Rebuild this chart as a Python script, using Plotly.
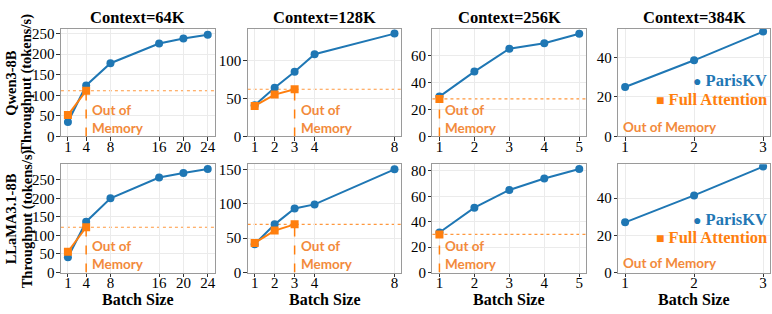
import plotly.graph_objects as go

# ---------------- data ----------------
contexts = ["64K", "128K", "256K", "384K"]
models = ["Qwen3-8B", "LLaMA3.1-8B"]
series_names = ["ParisKV", "Full Attention"]
y_title = "Throughput (tokens/s)"
x_title = "Batch Size"
oom_label = "Out of Memory"

batch_64k = [1, 4, 8, 16, 20, 24]
batch_128k = [1, 2, 3, 4, 8]
batch_256k = [1, 2, 3, 4, 5]
batch_384k = [1, 2, 3]

qwen_paris_64k = [35, 124, 178, 226, 238, 247]
qwen_full_64k = [52, 111]
qwen_paris_128k = [41, 64, 85, 108, 135]
qwen_full_128k = [40, 55, 62]
qwen_paris_256k = [29.5, 48, 65, 69, 76]
qwen_full_256k = [27.8]
qwen_paris_384k = [25, 38.5, 53]
qwen_full_384k = []

llama_paris_64k = [41, 137, 200, 256, 268, 279]
llama_full_64k = [56, 122]
llama_paris_128k = [41, 70, 93, 99, 150]
llama_full_128k = [43, 61, 70]
llama_paris_256k = [31.5, 51, 65, 74, 81.5]
llama_full_256k = [30]
llama_paris_384k = [27, 41.5, 57]
llama_full_384k = []

yticks_qwen = [[0, 50, 100, 150, 200, 250], [0, 50, 100], [0, 20, 40, 60], [0, 20, 40]]
yticks_llama = [[0, 50, 100, 150, 200, 250], [0, 50, 100, 150], [0, 20, 40, 60, 80], [0, 20, 40]]

batches = [batch_64k, batch_128k, batch_256k, batch_384k]
paris = [[qwen_paris_64k, qwen_paris_128k, qwen_paris_256k, qwen_paris_384k],
         [llama_paris_64k, llama_paris_128k, llama_paris_256k, llama_paris_384k]]
full = [[qwen_full_64k, qwen_full_128k, qwen_full_256k, qwen_full_384k],
        [llama_full_64k, llama_full_128k, llama_full_256k, llama_full_384k]]
yticks = [yticks_qwen, yticks_llama]

# ---------------- layout ----------------
W, H = 772, 314
BLUE = "#1f77b4"
ORANGE = "#ff7f0e"
OOM_COLOR = "#f28a3c"
SERIF = "Liberation Serif"
SANS = "Lato"

xdom_px = [(61, 215), (248, 402), (433, 587), (619, 771)]
ydom_px = [(27, 138.3), (167, 279.3)]
xranges = [[-0.15, 25.15], [0.65, 8.35], [0.8, 5.2], [0.9, 3.1]]
yranges = [[[0, 261], [0, 141], [0, 79.5], [0, 54.3]],
           [[0, 292], [0, 157.5], [0, 85.3], [0, 58.3]]]
legend_y = [(0.517, 0.344), (0.492, 0.326)]

fig = go.Figure()
shapes = []
annotations = []

for r in range(2):
    for c in range(4):
        n = r * 4 + c + 1
        xa = "x" if n == 1 else f"x{n}"
        ya = "y" if n == 1 else f"y{n}"
        xs = batches[c]
        ys = paris[r][c]
        fs = full[r][c]
        fig.add_trace(go.Scatter(
            x=xs, y=ys, mode="lines+markers", name=series_names[0],
            line=dict(color=BLUE, width=2), marker=dict(symbol="circle", size=8, color=BLUE),
            xaxis=xa, yaxis=ya, showlegend=False))
        if fs:
            fx = xs[:len(fs)]
            fig.add_trace(go.Scatter(
                x=fx, y=fs, mode="lines+markers", name=series_names[1],
                line=dict(color=ORANGE, width=2), marker=dict(symbol="square", size=8, color=ORANGE),
                xaxis=xa, yaxis=ya, showlegend=False))
            shapes.append(dict(type="line", xref=f"{xa} domain", yref=ya, x0=0, x1=1,
                               y0=fs[-1], y1=fs[-1],
                               line=dict(color=ORANGE, width=1.2, dash="dot"), opacity=0.8,
                               layer="below"))
            shapes.append(dict(type="line", xref=xa, yref=ya, x0=fx[-1], x1=fx[-1],
                               y0=0, y1=fs[-1],
                               line=dict(color=ORANGE, width=1.5, dash="dash")))
            annotations.append(dict(
                text="<b>Out of<br>Memory</b>", x=fx[-1], xref=xa, xshift=4,
                y=0.16, yref=f"{ya} domain", xanchor="left", yanchor="middle", align="left",
                showarrow=False, font=dict(family=SANS, size=13.5, color=OOM_COLOR)))
        else:
            annotations.append(dict(
                text=f"<b>{oom_label}</b>", x=0, xref=f"{xa} domain", xshift=3,
                y=0.085, yref=f"{ya} domain", xanchor="left", yanchor="middle", align="left",
                showarrow=False, font=dict(family=SANS, size=13.5, color=OOM_COLOR)))
            ly1, ly2 = legend_y[r]
            annotations.append(dict(
                text=f"<span style='font-size:14px'>●</span> <b>{series_names[0]}</b>",
                x=1, xref=f"{xa} domain", xshift=-1, y=ly1, yref=f"{ya} domain",
                xanchor="right", yanchor="middle", showarrow=False,
                font=dict(family=SERIF, size=16.5, color=BLUE)))
            annotations.append(dict(
                text=f"<span style='font-size:14px'>■</span> <b>{series_names[1]}</b>",
                x=1, xref=f"{xa} domain", xshift=-1, y=ly2, yref=f"{ya} domain",
                xanchor="right", yanchor="middle", showarrow=False,
                font=dict(family=SERIF, size=16.5, color=ORANGE)))

        x0, x1 = xdom_px[c]
        y0, y1 = ydom_px[r]
        axis_common = dict(showline=True, mirror=True, linecolor="#9a9a9a", linewidth=1,
                           showgrid=True, gridcolor="#ebebeb", gridwidth=1,
                           ticks="outside", ticklen=3.5, tickcolor="#333", tickwidth=1,
                           tickfont=dict(family=SERIF, size=15, color="black"),
                           zeroline=False)
        xkey = "xaxis" if n == 1 else f"xaxis{n}"
        ykey = "yaxis" if n == 1 else f"yaxis{n}"
        fig.layout[xkey] = dict(domain=[x0 / W, x1 / W], anchor=ya, range=xranges[c],
                                tickmode="array", tickvals=xs, ticklabelstandoff=-7,
                                **axis_common)
        fig.layout[ykey] = dict(domain=[1 - y1 / H, 1 - y0 / H], anchor=xa, range=yranges[r][c],
                                tickmode="array", tickvals=yticks[r][c], ticklabelstandoff=-1,
                                **axis_common)

        if r == 0:
            annotations.append(dict(
                text=f"<b>Context={contexts[c]}</b>", x=(x0 + x1) / 2 / W, xref="paper",
                y=1 - 15 / H, yref="paper", xanchor="center", yanchor="middle",
                showarrow=False, font=dict(family=SERIF, size=16.5, color="black")))
        else:
            annotations.append(dict(
                text=f"<b>{x_title}</b>", x=(x0 + x1) / 2 / W, xref="paper",
                y=1 - 307 / H, yref="paper", xanchor="center", yanchor="middle",
                showarrow=False, font=dict(family=SERIF, size=16, color="black")))

    yc = 1 - (ydom_px[r][0] + ydom_px[r][1]) / 2 / H
    annotations.append(dict(
        text=f"<b>{models[r]}</b>", x=11 / W, xref="paper", y=yc, yref="paper",
        xanchor="center", yanchor="middle", textangle=-90, showarrow=False,
        font=dict(family=SERIF, size=14.5, color="black")))
    annotations.append(dict(
        text=f"<b>{y_title}</b>", x=27 / W, xref="paper", y=yc, yref="paper",
        xanchor="center", yanchor="middle", textangle=-90, showarrow=False,
        font=dict(family=SERIF, size=14.5, color="black")))

fig.update_layout(width=W, height=H, margin=dict(l=0, r=0, t=0, b=0),
                  paper_bgcolor="white", plot_bgcolor="white",
                  shapes=shapes, annotations=annotations, showlegend=False)

fig.write_html("out.html", config={"displayModeBar": False},
               post_script="document.body.style.margin='0px';document.body.style.padding='0px';")
